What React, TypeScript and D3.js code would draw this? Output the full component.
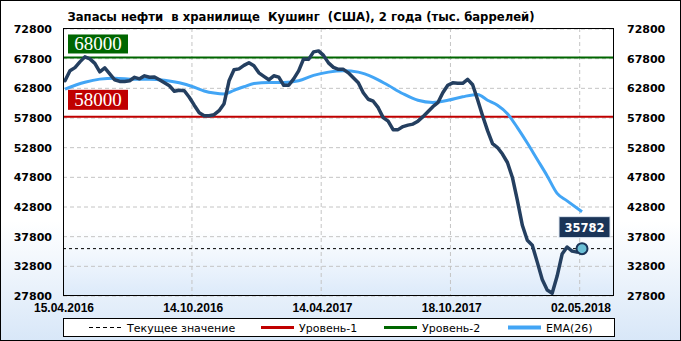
import React from "react";
import * as d3 from "d3";

const title = "Запасы нефти  в хранилище  Кушинг  (США), 2 года (тыс. баррелей)";
const dateLabels = ["15.04.2016", "14.10.2016", "14.04.2017", "18.10.2017", "02.05.2018"];
const dateIdx = [0, 26, 52, 78, 104];
const yTicks = [27800, 32800, 37800, 42800, 47800, 52800, 57800, 62800, 67800, 72800];

const stocks = [
  64070, 65750, 66290, 67260, 68100, 67760, 67010, 65580, 66250, 65240,
  64240, 63970, 63950, 64070, 64660, 64400, 64910, 64660, 64710, 64240,
  63730, 63230, 62310, 62470, 62390, 61300, 59960, 58700, 58190, 58190,
  58360, 59030, 60210, 64070, 65920, 66080, 66670, 67120, 66590, 65410,
  64820, 64240, 64910, 64690, 63310, 63310, 64400, 65750, 67760, 67680,
  68940, 69110, 68350, 67090, 66340, 66000, 66000, 65410, 64570, 63730,
  62050, 60960, 60630, 59540, 57860, 57270, 55840, 55840, 56350, 56600,
  56770, 57270, 58030, 58860, 59700, 60380, 62050, 63310, 63730, 63650,
  63650, 64320, 63400, 60880, 58190, 55670, 53490, 52820, 51730, 50300,
  47780, 43920, 39720, 37200, 36360, 33510, 30570, 28810, 28270, 31160,
  34860, 36060, 35360, 35190, 35782,
];

const emaIdx = [0, 4, 7, 10, 14, 17, 20, 23, 26, 28, 30, 32, 34, 36, 38, 41, 44, 47, 50, 53, 56, 59, 62, 65, 68, 71, 74, 77, 80, 83, 85, 87, 89, 91, 93, 95, 97, 99, 101, 104];
const emaVals = [62680, 63820, 64350, 64520, 64350, 64350, 64170, 63730, 62980, 62360, 62000, 61840, 62470, 63060, 63630, 63780, 63780, 64070, 64990, 65530, 65750, 65530, 64660, 63310, 61890, 60790, 60430, 60780, 61380, 61770, 60790, 59960, 58530, 56180, 53580, 50810, 48040, 45100, 43840, 41990];

const level1 = 58000;
const level2 = 68000;
const currentValue = 35782;

const legendItems = [
  { label: "Текущее значение", color: "#000", dash: "4,3", width: 1, x: 89 },
  { label: "Уровень-1", color: "#c00000", dash: null, width: 3, x: 261 },
  { label: "Уровень-2", color: "#006600", dash: null, width: 3, x: 384 },
  { label: "EMA(26)", color: "#42a5f5", dash: null, width: 4, x: 508 },
];

export default function App() {
  const W = 681, H = 341;
  const pl = 63, pr = 614, pt = 28, pb = 296;
  const x = d3.scaleLinear().domain([0, 104]).range([65, 582]);
  const y = d3.scaleLinear().domain([27800, 72800]).range([296, 29]);

  const line = d3.line<number>().x((_, i) => x(i)).y((d) => y(d)).curve(d3.curveLinear);
  const emaPts = emaIdx.map((e, i) => [e, emaVals[i]] as [number, number]);
  const emaLine = d3.line<[number, number]>().x((d) => x(d[0])).y((d) => y(d[1])).curve(d3.curveMonotoneX);

  const lastI = stocks.length - 1;
  const lx = x(lastI), ly = y(currentValue);
  const axisFont = "'DejaVu Sans', sans-serif";

  return (
    <svg width={W} height={H} style={{ position: "absolute", left: 0, top: 0 }}>
      <defs>
        <linearGradient id="bg" x1="0" y1="0" x2="0" y2="1">
          <stop offset="0" stopColor="#ffffff" />
          <stop offset="0.65" stopColor="#ffffff" />
          <stop offset="1" stopColor="#d8e7f8" />
        </linearGradient>
        <linearGradient id="pbg" x1="0" y1="0" x2="0" y2="1">
          <stop offset="0" stopColor="#ffffff" />
          <stop offset="0.75" stopColor="#ffffff" />
          <stop offset="1" stopColor="#dceafa" />
        </linearGradient>
      </defs>
      <rect x={0.5} y={0.5} width={W - 1} height={H - 1} fill="url(#bg)" stroke="#000" />
      <rect x={pl} y={pt} width={pr - pl} height={pb - pt} fill="url(#pbg)" />

      {yTicks.map((t) => (
        <line key={"g" + t} x1={pl} x2={pr} y1={y(t)} y2={y(t)} stroke="#c4c4c4" strokeDasharray="4,3" />
      ))}
      {dateIdx.slice(1).map((d) => (
        <line key={"v" + d} x1={x(d) - 2.3} x2={x(d) - 2.3} y1={pt} y2={pb} stroke="#c4c4c4" strokeDasharray="4,3" />
      ))}

      <line x1={pl} x2={pr} y1={y(level2)} y2={y(level2)} stroke="#006600" strokeWidth={2} />
      <line x1={pl} x2={pr} y1={y(level1)} y2={y(level1)} stroke="#c00000" strokeWidth={2} />
      <line x1={pl} x2={pr} y1={ly} y2={ly} stroke="#000" strokeDasharray="3,3" />

      <path d={emaLine(emaPts) || ""} fill="none" stroke="#42a5f5" strokeWidth={3} strokeLinejoin="round" />
      <path d={line(stocks) || ""} fill="none" stroke="#243f60" strokeWidth={3.5} strokeLinejoin="round" strokeLinecap="round" />
      <circle cx={lx} cy={ly} r={5.5} fill="#6cc0d6" stroke="#1b3558" strokeWidth={2} />

      <rect x={lx - 23} y={ly - 32} width={51} height={21} fill="#1b3558" stroke="#dfe8f2" strokeWidth={1} />
      <text x={lx + 2.5} y={ly - 17} textAnchor="middle" fill="#fff" fontFamily={axisFont} fontWeight="bold" fontSize={11.5}>
        {currentValue}
      </text>

      <rect x={68} y={y(level2) - 23} width={60} height={19} fill="#006600" />
      <text x={98} y={y(level2) - 7} textAnchor="middle" fill="#fff" fontFamily="'Liberation Serif', serif" fontSize={19}>
        {level2}
      </text>
      <rect x={68} y={y(level1) - 27} width={60} height={20} fill="#c00000" />
      <text x={98} y={y(level1) - 10.5} textAnchor="middle" fill="#fff" fontFamily="'Liberation Serif', serif" fontSize={19}>
        {level1}
      </text>

      <rect x={pl + 0.5} y={pt + 0.5} width={pr - pl - 1} height={pb - pt - 1} fill="none" stroke="#000" />

      {yTicks.map((t) => (
        <g key={"l" + t}>
          <text x={52} y={y(t) + 4} textAnchor="end" fontFamily={axisFont} fontWeight="bold" fontSize={11}>{t}</text>
          <text x={627} y={y(t) + 4} textAnchor="start" fontFamily={axisFont} fontWeight="bold" fontSize={11}>{t}</text>
        </g>
      ))}

      {dateIdx.map((d, i) => (
        <text key={"d" + d} x={x(d) - 1} y={312} textAnchor="middle" fontFamily="'Liberation Sans', Arial, sans-serif" fontWeight="bold" fontSize={12}>
          {dateLabels[i]}
        </text>
      ))}

      <text x={301} y={20.5} textAnchor="middle" fontFamily={axisFont} fontWeight="bold" fontSize={11.5}
        textLength={467} lengthAdjust="spacingAndGlyphs" style={{ whiteSpace: "pre" }}>
        {title}
      </text>

      <rect x={63.5} y={318.5} width={551} height={18} fill="#ffffff" stroke="#000" />
      {legendItems.map((it) => (
        <g key={it.label}>
          <line x1={it.x} x2={it.x + 33} y1={327.5} y2={327.5} stroke={it.color} strokeWidth={it.width}
            strokeDasharray={it.dash || undefined} />
          <text x={it.x + 38} y={331.5} fontFamily={axisFont} fontSize={11}>{it.label}</text>
        </g>
      ))}
    </svg>
  );
}
